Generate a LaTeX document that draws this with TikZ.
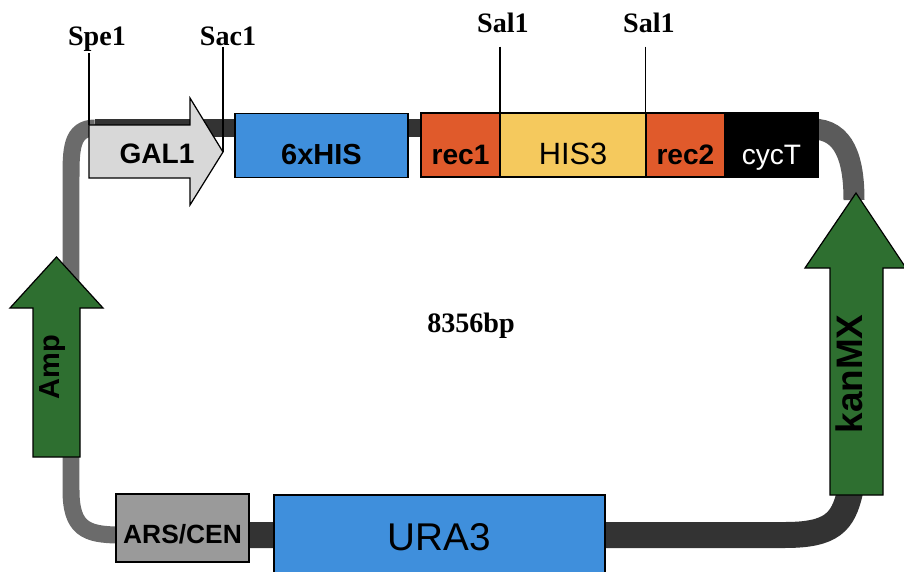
\documentclass[tikz,border=0pt]{standalone}
\usepackage{fontspec}
\setmainfont{Liberation Serif}
\setsansfont{Liberation Sans}
\usetikzlibrary{positioning}

\definecolor{hisblue}{HTML}{3F8FDC}
\definecolor{recred}{HTML}{E05A2B}
\definecolor{hisyellow}{HTML}{F5C95D}
\definecolor{markergreen}{HTML}{2E6F30}
\definecolor{promgray}{HTML}{D8D8D8}
\definecolor{arsgray}{HTML}{9A9A9A}
\definecolor{bbdark}{HTML}{333333}
\definecolor{bbgray}{HTML}{6B6B6B}

\begin{document}
\begin{tikzpicture}[
    x=0.02cm, y=-0.02cm,
    node distance=0pt,
    part/.style={draw, line width=0.7pt, minimum height=1.28cm, inner sep=0pt, outer sep=0pt,
        text height=22pt, text depth=0pt, font=\sffamily\bfseries\fontsize{16}{18}\selectfont},
    genearrow/.style={draw, line width=0.7pt},
    genelabel/.style={inner sep=0pt, font=\sffamily\bfseries\fontsize{16.5}{18}\selectfont},
    backbone/.style={line width=0.36cm, line cap=butt},
    site/.style={inner sep=1pt, font=\bfseries\fontsize{16}{18}\selectfont},
    siteline/.style={line width=0.6pt}
]
\useasboundingbox (0,0) rectangle (904,572);

% plasmid backbone
\draw[backbone, draw=bbdark] (95,128) -- (815,128);
\draw[backbone, draw=bbgray, line width=0.34cm] (95,128) .. controls (71,128) and (71,150) .. (71,178) -- (71,300);
\draw[backbone, draw=bbgray, line width=0.34cm] (71,440) -- (71,490) .. controls (71,528) and (85,535) .. (120,535);
\draw[backbone, draw=bbdark, line width=0.52cm] (115,535) -- (785,535) .. controls (832,535) and (843,522) .. (850,492);
\draw[backbone, draw=bbgray!85!black, line width=0.42cm] (812,129) .. controls (845,129) and (854,160) .. (854,200);

% promoter and top cassette
\coordinate (galTail) at (89,125);
\coordinate (galTip) at (223,152);
\draw[genearrow, fill=promgray] (galTail) -- (190,125) -- (190,98) -- (galTip) -- (190,205) -- (190,178) -- (89,178) -- cycle;
\node[genelabel, font=\sffamily\bfseries\fontsize{16}{18}\selectfont] (gal1) at (157,154) {GAL1};

\node[part, fill=hisblue, minimum width=3.46cm, font=\sffamily\bfseries\fontsize{16.5}{18}\selectfont] (tag) at (321.5,145.5) {6xHIS};
\node[part, fill=recred, minimum width=1.58cm] (rec1) at (460.5,145) {rec1};
\node[part, fill=hisyellow, minimum width=2.92cm, right=of rec1, font=\sffamily\fontsize{17.5}{20}\selectfont] (his3) {HIS3};
\node[part, fill=recred, minimum width=1.58cm, right=of his3] (rec2) {rec2};
\node[part, fill=black, minimum width=1.86cm, right=of rec2, text=white, font=\sffamily\fontsize{16}{18}\selectfont] (cyct) {cycT};

% markers
\coordinate (ampTip) at (56.5,257);
\draw[genearrow, fill=markergreen] (33,457) -- (33,308) -- (10,308) -- (ampTip) -- (103,308) -- (80,308) -- (80,457) -- cycle;
\node[genelabel, rotate=90] (amp) at (53,367) {Amp};

\coordinate (kanTip) at (856,193);
\draw[genearrow, fill=markergreen] (830,495) -- (830,268) -- (805,268) -- (kanTip) -- (906,268) -- (883,268) -- (883,495) -- cycle;
\node[genelabel, rotate=90, font=\sffamily\bfseries\fontsize{21}{22}\selectfont] (kanmx) at (849,374) {kanMX};

% bottom elements
\node[part, fill=arsgray, minimum width=2.66cm, minimum height=1.36cm, text height=17.6pt,
    font=\sffamily\bfseries\fontsize{15}{17}\selectfont] (ars) at (182.5,528) {ARS/CEN};
\node[part, fill=hisblue, minimum width=6.62cm, minimum height=1.66cm, text height=15.8pt,
    font=\sffamily\fontsize{22}{24}\selectfont] (ura3) at (439.5,536.5) {URA3};

% size
\node[site] (size) at (471,332) [anchor=base] {8356bp};

% restriction sites
\node[site, anchor=base] (spe) at (97,45) {Spe1};
\node[site, anchor=base] (sac) at (228,45) {Sac1};
\node[site, anchor=base] (salA) at (503,32) {Sal1};
\node[site, anchor=base] (salB) at (649,32) {Sal1};

\draw[siteline] (spe.south -| galTail) -- (galTail);
\draw[siteline] (sac.south -| galTip) -- (galTip);
\draw[siteline, shorten <=7pt] (salA.south -| rec1.north east) -- (rec1.north east);
\draw[siteline, shorten <=7pt] (salB.south -| his3.north east) -- (his3.north east);

\end{tikzpicture}
\end{document}
